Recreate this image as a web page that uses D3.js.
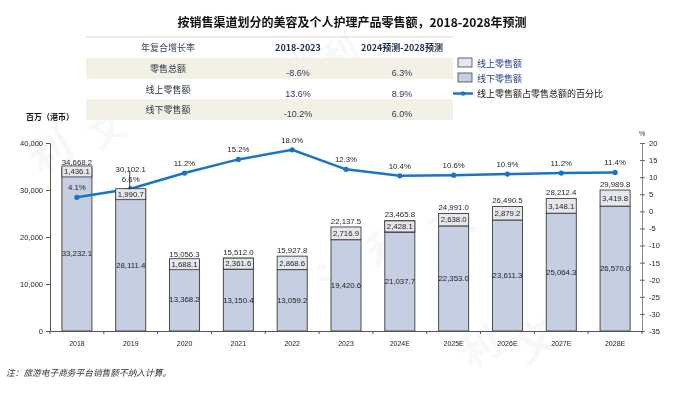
<!DOCTYPE html>
<html>
<head>
<meta charset="utf-8">
<script src="https://cdn.jsdelivr.net/npm/d3@7"></script>
<style>
  body { margin: 0; background: #fff; }
  svg { display: block; }
  .cjk { font-family: "Noto Sans CJK SC", "Noto Sans", sans-serif; }
  .num { font-family: "Liberation Sans", Arial, sans-serif; }
</style>
</head>
<body>
<div id="chart"></div>
<script>
// data
var years = ["2018", "2019", "2020", "2021", "2022", "2023", "2024E", "2025E", "2026E", "2027E", "2028E"];
var online = [1436.1, 1990.7, 1688.1, 2361.6, 2868.6, 2716.9, 2428.1, 2638.0, 2879.2, 3148.1, 3419.8];
var offline = [33232.1, 28111.4, 13368.2, 13150.4, 13059.2, 19420.6, 21037.7, 22353.0, 23611.3, 25064.3, 26570.0];
var totals = [34668.2, 30102.1, 15056.3, 15512.0, 15927.8, 22137.5, 23465.8, 24991.0, 26490.5, 28212.4, 29989.8];
var share = [4.1, 6.6, 11.2, 15.2, 18.0, 12.3, 10.4, 10.6, 10.9, 11.2, 11.4];

var leftTicks = [0, 10000, 20000, 30000, 40000];
var rightTicks = [-35, -30, -25, -20, -15, -10, -5, 0, 5, 10, 15, 20];

var tableHead = ["年复合增长率", "2018-2023", "2024预测-2028预测"];
var tableRows = ["零售总额", "线上零售额", "线下零售额"];
var cagrHist = ["-8.6%", "13.6%", "-10.2%"];
var cagrFcst = ["6.3%", "8.9%", "6.0%"];

var legendItems = ["线上零售额", "线下零售额", "线上零售额占零售总额的百分比"];

var W = 692, H = 396;
var colOffline = "#c5cfe1", colOnline = "#e5e7ec", colLine = "#1a74c6";

var svg = d3.select("#chart").append("svg").attr("width", W).attr("height", H);

// faint watermark
var wm = svg.append("g").attr("class", "cjk").style("fill", "#c9d3df").style("opacity", 0.16)
  .style("font-weight", "bold");
[["利", 40, 175, 42], ["文", 98, 150, 36], ["沙", 292, 78, 34], ["利", 332, 72, 34],
 ["沙", 330, 300, 44], ["利", 378, 272, 44], ["文", 440, 248, 44], ["利", 470, 370, 40], ["文", 525, 365, 44]]
  .forEach(function(w) {
    wm.append("text").attr("transform", "translate(" + w[1] + "," + w[2] + ") rotate(-30)")
      .style("font-size", w[3] + "px").text(w[0]);
  });

// title
svg.append("text").attr("class", "cjk").attr("x", 352).attr("y", 27).attr("text-anchor", "middle")
  .style("font-size", "12px").style("font-weight", "bold").style("fill", "#111")
  .text("按销售渠道划分的美容及个人护理产品零售额，2018-2028年预测");

// CAGR table
var tX = 86, tW = 367, tTop = 37;
var colX = [168, 298, 402];
var rowTop = [58, 79, 99], rowH = [21, 20, 21];
svg.append("line").attr("x1", tX).attr("x2", tX + tW).attr("y1", tTop).attr("y2", tTop)
  .style("stroke", "#d8d8d0").style("stroke-width", 1);
rowTop.forEach(function(y, i) {
  if (i !== 1) {
    svg.append("rect").attr("x", tX).attr("y", y).attr("width", tW).attr("height", rowH[i])
      .style("fill", "#f3f1e5");
  }
});
tableHead.forEach(function(h, i) {
  svg.append("text").attr("class", "cjk").attr("x", colX[i]).attr("y", 51)
    .attr("text-anchor", "middle").style("font-size", "9px")
    .style("font-weight", i === 0 ? "normal" : "bold")
    .style("fill", i === 0 ? "#3a4456" : "#1f2c4c").text(h);
});
tableRows.forEach(function(r, i) {
  svg.append("text").attr("class", "cjk").attr("x", colX[0]).attr("y", rowTop[i] + 14)
    .attr("text-anchor", "middle").style("font-size", "9px").style("fill", "#2c3548").text(r);
  svg.append("text").attr("class", "num").attr("x", colX[1]).attr("y", rowTop[i] + 18)
    .attr("text-anchor", "middle").style("font-size", "9px").style("fill", "#2c3a5a").text(cagrHist[i]);
  svg.append("text").attr("class", "num").attr("x", colX[2]).attr("y", rowTop[i] + 18)
    .attr("text-anchor", "middle").style("font-size", "9px").style("fill", "#2c3a5a").text(cagrFcst[i]);
});

// legend
var lg = svg.append("g").attr("transform", "translate(458,58)");
[colOnline, colOffline].forEach(function(c, i) {
  lg.append("rect").attr("x", 0).attr("y", i * 15).attr("width", 14).attr("height", 9)
    .style("fill", c).style("stroke", "#444").style("stroke-width", 0.8);
});
lg.append("line").attr("x1", -5).attr("x2", 15).attr("y1", 35.5).attr("y2", 35.5)
  .style("stroke", colLine).style("stroke-width", 2.5);
lg.append("circle").attr("cx", 5).attr("cy", 35.5).attr("r", 2.3).style("fill", colLine);
legendItems.forEach(function(t, i) {
  lg.append("text").attr("class", "cjk").attr("x", 19).attr("y", i * 15 + 8.5)
    .style("font-size", "9px").style("fill", i < 2 ? "#24408a" : "#111").text(t);
});

// scales
var x = d3.scaleBand().domain(years).range([50, 642]).paddingInner(0.442).paddingOuter(0.221);
var y = d3.scaleLinear().domain([0, 40000]).range([331, 143]);
var yR = d3.scaleLinear().domain([-35, 20]).range([331, 143]);
var step = x.step(), bw = x.bandwidth();

// axis titles
svg.append("text").attr("class", "cjk").attr("x", 26).attr("y", 120)
  .style("font-size", "8px").style("font-weight", "bold").style("fill", "#111").text("百万（港币）");
svg.append("text").attr("class", "num").attr("x", 642).attr("y", 136).attr("text-anchor", "middle")
  .style("font-size", "7px").style("fill", "#333").text("%");

// bars
var bars = svg.append("g");
years.forEach(function(yr, i) {
  var x0 = x(yr);
  bars.append("rect").attr("x", x0).attr("y", y(offline[i])).attr("width", bw)
    .attr("height", y(0) - y(offline[i]))
    .style("fill", colOffline).style("stroke", "#3c3c3c").style("stroke-width", 0.9);
  bars.append("rect").attr("x", x0).attr("y", y(totals[i])).attr("width", bw)
    .attr("height", y(offline[i]) - y(totals[i]))
    .style("fill", colOnline).style("stroke", "#3c3c3c").style("stroke-width", 0.9);
});

// axes
var axL = svg.append("g").attr("transform", "translate(50,0)")
  .call(d3.axisLeft(y).tickValues(leftTicks).tickFormat(d3.format(",")).tickSize(4).tickSizeOuter(0));
axL.select(".domain").style("stroke", "#555");
axL.selectAll(".tick line").style("stroke", "#555");
axL.selectAll(".tick text").attr("class", "num").style("font-size", "7.5px").style("fill", "#222").attr("x", -7);

var axR = svg.append("g").attr("transform", "translate(642,0)")
  .call(d3.axisRight(yR).tickValues(rightTicks).tickFormat(function(d) { return String(d); })
    .tickSize(3).tickSizeOuter(0));
axR.select(".domain").style("stroke", "#888");
axR.selectAll(".tick line").attr("x1", -2).style("stroke", "#666");
axR.selectAll(".tick text").attr("class", "num").style("font-size", "7.5px").style("fill", "#222").attr("x", 7);

var axB = svg.append("g").attr("transform", "translate(0,331)")
  .call(d3.axisBottom(x).tickSize(0).tickSizeOuter(0));
axB.select(".domain").style("stroke", "#555");
axB.selectAll(".tick text").attr("class", "num").style("font-size", "7px").style("fill", "#222").attr("dy", "0.95em").attr("y", 8);
// boundary ticks between categories
d3.range(years.length + 1).forEach(function(k) {
  var bx = 50 + k * step;
  svg.append("line").attr("x1", bx).attr("x2", bx).attr("y1", 331).attr("y2", 334).style("stroke", "#555");
});

// share line
var pts = years.map(function(yr, i) { return [x(yr) + bw / 2, yR(share[i])]; });
svg.append("path").datum(pts).attr("d", d3.line())
  .style("fill", "none").style("stroke", colLine).style("stroke-width", 2.5);
svg.selectAll("circle.pt").data(pts).enter().append("circle").attr("class", "pt")
  .attr("cx", function(d) { return d[0]; }).attr("cy", function(d) { return d[1]; })
  .attr("r", 2.6).style("fill", colLine);

// labels
var lab = svg.append("g").attr("class", "num").style("font-size", "7.8px").style("fill", "#1e1e1e");
years.forEach(function(yr, i) {
  var cx = x(yr) + bw / 2;
  var pctY = yR(share[i]) - 10;
  var totY = y(totals[i]) - 6;
  if (Math.abs(totY - pctY) < 9) {
    // moved up above the share label, with a leader line
    var newY = pctY - 10;
    svg.append("line").attr("x1", cx - 1).attr("x2", cx - 1).attr("y1", newY + 2).attr("y2", y(totals[i]))
      .style("stroke", "#111").style("stroke-width", 0.8);
    totY = newY;
  }
  lab.append("text").attr("x", cx).attr("y", pctY).attr("dy", "0.35em").attr("text-anchor", "middle")
    .text(share[i].toFixed(1) + "%");
  lab.append("text").attr("x", cx).attr("y", totY).attr("dy", "0.35em").attr("text-anchor", "middle")
    .text(d3.format(",.1f")(totals[i]));

  var segMid = (y(totals[i]) + y(offline[i])) / 2;
  var segH = y(offline[i]) - y(totals[i]);
  var t = lab.append("text").attr("x", cx).attr("y", segMid).attr("dy", "0.35em").attr("text-anchor", "middle")
    .text(d3.format(",.1f")(online[i]));
  if (segH < 12) {
    var tw = t.node().getComputedTextLength();
    lab.insert("rect", function() { return t.node(); })
      .attr("x", cx - tw / 2 - 2).attr("y", segMid - 5.5).attr("width", tw + 4).attr("height", 11)
      .style("fill", colOnline).style("stroke", "#333").style("stroke-width", 0.8);
  }
  lab.append("text").attr("x", cx).attr("y", (y(0) + y(offline[i])) / 2).attr("dy", "0.35em")
    .attr("text-anchor", "middle").text(d3.format(",.1f")(offline[i]));
});

// footnote
svg.append("text").attr("class", "cjk").attr("x", 6).attr("y", 376)
  .style("font-size", "8.7px").style("font-style", "italic").style("fill", "#333")
  .text("注：旅游电子商务平台销售额不纳入计算。");
</script>
</body>
</html>
